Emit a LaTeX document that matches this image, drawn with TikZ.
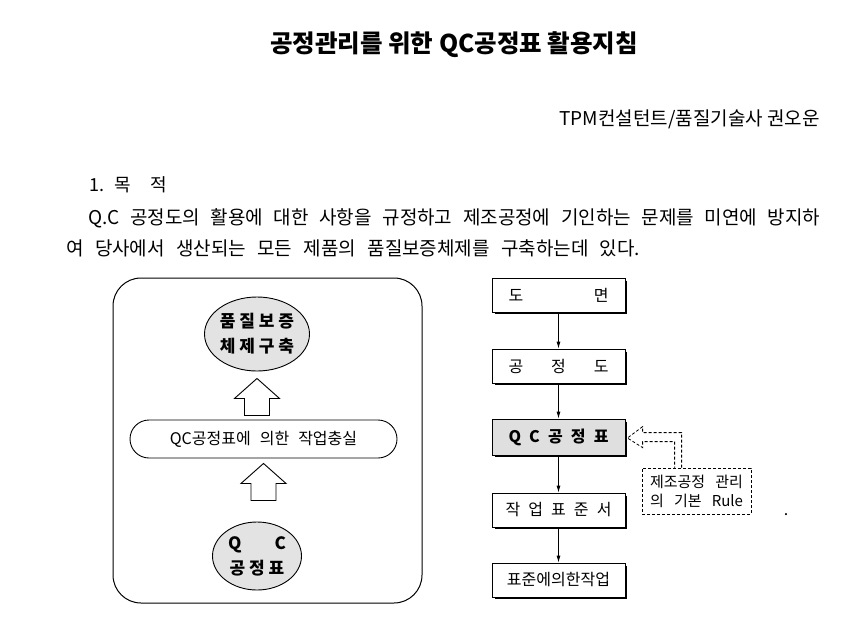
\documentclass[tikz,border=0pt]{standalone}
\usepackage{fontspec}
\setmainfont{Noto Sans CJK KR}
\usetikzlibrary{arrows.meta,shapes.geometric,calc}
\begin{document}
\begin{tikzpicture}[x=1pt,y=-1pt,
  plain/.style={inner sep=0pt},
  fbox/.style={draw, line width=0.8pt, minimum width=133pt, minimum height=34pt, inner sep=0pt, fill=white, font=\fontsize{16}{18}\selectfont},
  flow/.style={-{Latex[length=7pt,width=4pt]}, line width=0.8pt},
  oval/.style={ellipse, draw, line width=0.9pt, fill=gray!22, minimum width=89pt, inner sep=0pt, align=center, font=\bfseries\fontsize{17}{25}\selectfont},
  dashy/.style={draw, line width=0.8pt, dash pattern=on 3pt off 2pt},
  uparrow/.pic={\draw[line width=0.9pt, fill=white] (0,0) -- (22.5,20) -- (12.5,20) -- (12.5,37) -- (-12.5,37) -- (-12.5,20) -- (-22.5,20) -- cycle;}
]
\useasboundingbox[fill=white] (0,0) rectangle (865,633);

% header text
\node[plain, font=\bfseries\fontsize{24.5}{24.5}\selectfont] (title) at (454,45) {공정관리를 위한 QC공정표 활용지침};
\node[plain, anchor=east, font=\fontsize{19}{19}\selectfont] (author) at (820,119) {TPM컨설턴트/품질기술사 권오운};
\node[plain, anchor=west, font=\fontsize{18}{18}\selectfont] (sec) at (89,185) {1.\hspace{10pt}목\hspace{20pt}적};
\node[plain, anchor=west, font=\fontsize{19}{19}\selectfont] (p1) at (88,218) {\makebox[732pt][s]{Q.C 공정도의 활용에 대한 사항을 규정하고 제조공정에 기인하는 문제를 미연에 방지하}};
\node[plain, anchor=west, font=\fontsize{19}{19}\selectfont] (p2) at (66,248) {\makebox[574pt][s]{여 당사에서 생산되는 모든 제품의 품질보증체제를 구축하는데 있다.}};

% left diagram
\node[draw, line width=1pt, rounded corners=28pt, minimum width=309pt, minimum height=325pt] (frame) at (267.5,440.5) {};
\node[oval, minimum height=74pt] (goal) at (257,334) {품 질 보 증\\체 제 구 축};
\node[draw, line width=0.9pt, rounded corners=19pt, minimum width=267pt, minimum height=38pt, font=\fontsize{16}{18}\selectfont] (pill) at (263.5,439) {QC공정표에\hspace{9pt}의한\hspace{9pt}작업충실};
\node[oval, minimum height=68pt] (qcoval) at (257,556) {\makebox[58pt]{Q\hfill C}\\공 정 표};
\pic at ($(goal.south)+(0,7)$) {uparrow};
\pic at ($(pill.south)+(0,5)$) {uparrow};

% right flowchart
\node[fbox] (b1) at (558.5,295) {\makebox[100pt]{도\hfill 면}};
\node[fbox] (b2) at (558.5,366) {\makebox[100pt]{공\hfill 정\hfill 도}};
\node[fbox, fill=gray!25, minimum height=36pt, font=\bfseries\fontsize{16}{18}\selectfont] (b3) at (558.5,437) {\makebox[100pt]{Q\hfill C\hfill 공\hfill 정\hfill 표}};
\node[fbox] (b4) at (558.5,510) {\makebox[106pt]{작\hfill 업\hfill 표\hfill 준\hfill 서}};
\node[fbox] (b5) at (558.5,580) {표준에의한작업};
\foreach \b in {b1,b2,b3,b4,b5}{
  \draw[line width=1.8pt] ($(\b.north east)+(1,3)$) -- ($(\b.south east)+(1,1)$) -- ($(\b.south west)+(3,1)$);
}
\draw[flow] (b1) -- (b2);
\draw[flow] (b2) -- (b3);
\draw[flow] (b3) -- (b4);
\draw[flow] (b4) -- (b5);

\node[dashy, minimum width=109pt, minimum height=46pt, inner sep=0pt, align=center, font=\fontsize{15}{19}\selectfont] (rule) at (696.5,491) {\makebox[93pt][s]{제조공정 관리}\\\makebox[93pt][s]{의 기본 Rule}};
\coordinate (tip) at ($(b3.east)+(2,1)$);
\draw[line width=0.8pt, dash pattern=on 3pt off 2pt]
  ($(rule.north west)+(40,0)$) -- ($(rule.north west)+(40,-35)$) -- ($(rule.north west)+(1,-35)$)
  -- ($(rule.north west)+(1,-41)$) -- (tip) -- ($(rule.north west)+(1,-20)$)
  -- ($(rule.north west)+(1,-26)$) -- ($(rule.north west)+(33,-26)$) -- ($(rule.north west)+(33,0)$);
\node[plain, anchor=base, font=\fontsize{16}{16}\selectfont] (dot) at (786,515) {.};
\end{tikzpicture}
\end{document}
